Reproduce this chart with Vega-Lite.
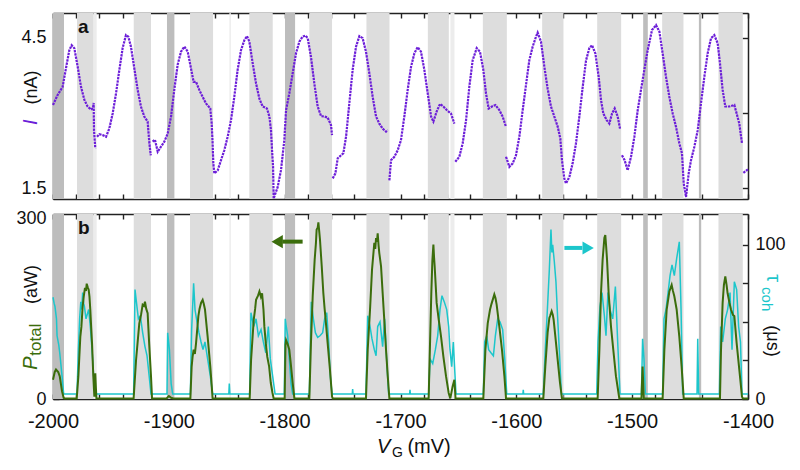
{
"$schema": "https://vega.github.io/schema/vega-lite/v6.json",
"padding": {"left": 15, "top": 12, "right": 5, "bottom": 5},
"background": "white",
"config": {
 "font": "Liberation Sans",
 "view": {"stroke": null},
 "axis": {"zindex": 1, "grid": false, "labelFlush": false, "labelOverlap": false, "domainColor": "#222", "domainWidth": 1.5, "tickColor": "#222", "tickWidth": 1.4, "labelFont": "Liberation Sans", "labelColor": "#111"}
},
"datasets": {
 "bands": [
  {"start": -2000, "end": -1990.5, "kind": "dark"},
  {"start": -1979.3, "end": -1964.9, "kind": "light"},
  {"start": -1964.9, "end": -1962.3, "kind": "faint"},
  {"start": -1930.3, "end": -1915.4, "kind": "light"},
  {"start": -1901.6, "end": -1895.2, "kind": "dark"},
  {"start": -1881.7, "end": -1861.8, "kind": "light"},
  {"start": -1847.7, "end": -1846.5, "kind": "faint"},
  {"start": -1830.5, "end": -1810.3, "kind": "light"},
  {"start": -1799.7, "end": -1791, "kind": "dark"},
  {"start": -1778.7, "end": -1759.1, "kind": "light"},
  {"start": -1729.4, "end": -1709.5, "kind": "light"},
  {"start": -1676.4, "end": -1658.3, "kind": "light"},
  {"start": -1656.9, "end": -1653.4, "kind": "faint"},
  {"start": -1628.9, "end": -1608.2, "kind": "light"},
  {"start": -1577.7, "end": -1559.3, "kind": "light"},
  {"start": -1530.2, "end": -1509.5, "kind": "light"},
  {"start": -1490.5, "end": -1486.5, "kind": "dark"},
  {"start": -1474.1, "end": -1455.7, "kind": "light"},
  {"start": -1442.4, "end": -1440.4, "kind": "dark"},
  {"start": -1425.5, "end": -1404.5, "kind": "light"}
 ],
 "current": [
  {"v": -2000, "i": 3.16, "s": 1}, {"v": -1996, "i": 3.36, "s": 1}, {"v": -1991.7, "i": 3.52, "s": 1}, {"v": -1988.8, "i": 3.89, "s": 1}, {"v": -1985.9, "i": 4.25, "s": 1}, {"v": -1983.9, "i": 4.35, "s": 1}, {"v": -1981.6, "i": 4.29, "s": 1}, {"v": -1978.7, "i": 3.92, "s": 1}, {"v": -1975.8, "i": 3.52, "s": 1}, {"v": -1972.9, "i": 3.26, "s": 1}, {"v": -1970.1, "i": 3.13, "s": 1}, {"v": -1967.2, "i": 3.07, "s": 1}, {"v": -1965.5, "i": 3.1, "s": 1}, {"v": -1964.9, "i": 3.2, "s": 1}, {"v": -1964.6, "i": 2.66, "s": 1}, {"v": -1963.5, "i": 2.3, "s": 1},
  {"v": -1962, "i": 2.53, "s": 2}, {"v": -1960, "i": 2.58, "s": 2}, {"v": -1957.1, "i": 2.56, "s": 2}, {"v": -1954.2, "i": 2.53, "s": 2}, {"v": -1951.4, "i": 2.69, "s": 2}, {"v": -1948.5, "i": 2.99, "s": 2}, {"v": -1945.6, "i": 3.39, "s": 2}, {"v": -1942.7, "i": 3.86, "s": 2}, {"v": -1939.9, "i": 4.29, "s": 2}, {"v": -1937, "i": 4.55, "s": 2}, {"v": -1935, "i": 4.52, "s": 2}, {"v": -1932.7, "i": 4.32, "s": 2}, {"v": -1929.8, "i": 3.89, "s": 2}, {"v": -1926.9, "i": 3.46, "s": 2}, {"v": -1924.1, "i": 3.13, "s": 2}, {"v": -1921.2, "i": 2.93, "s": 2}, {"v": -1918.3, "i": 2.83, "s": 2}, {"v": -1916.8, "i": 2.4, "s": 2}, {"v": -1915.6, "i": 2.16, "s": 2},
  {"v": -1914, "i": 2.43, "s": 3}, {"v": -1912, "i": 2.47, "s": 3}, {"v": -1909.6, "i": 2.23, "s": 3}, {"v": -1906.8, "i": 2.33, "s": 3}, {"v": -1903.9, "i": 2.43, "s": 3}, {"v": -1901, "i": 2.59, "s": 3}, {"v": -1898.1, "i": 2.93, "s": 3}, {"v": -1895.3, "i": 3.46, "s": 3}, {"v": -1892.4, "i": 3.96, "s": 3}, {"v": -1889.5, "i": 4.22, "s": 3}, {"v": -1886.6, "i": 4.32, "s": 3}, {"v": -1883.7, "i": 4.22, "s": 3}, {"v": -1880.9, "i": 3.89, "s": 3}, {"v": -1878.6, "i": 3.62, "s": 3}, {"v": -1876.5, "i": 3.62, "s": 3}, {"v": -1873.7, "i": 3.46, "s": 3}, {"v": -1870.8, "i": 3.32, "s": 3}, {"v": -1867.9, "i": 3.19, "s": 3}, {"v": -1864.2, "i": 3.09, "s": 3}, {"v": -1863, "i": 2.79, "s": 3}, {"v": -1862.2, "i": 2.4, "s": 3}, {"v": -1861.6, "i": 2.0, "s": 3}, {"v": -1860.7, "i": 1.8, "s": 3}, {"v": -1857.8, "i": 1.86, "s": 3}, {"v": -1855, "i": 2.06, "s": 3}, {"v": -1852.1, "i": 2.26, "s": 3}, {"v": -1849.2, "i": 2.53, "s": 3}, {"v": -1846.3, "i": 2.86, "s": 3}, {"v": -1843.5, "i": 3.32, "s": 3}, {"v": -1840.6, "i": 3.86, "s": 3}, {"v": -1837.7, "i": 4.25, "s": 3}, {"v": -1834.8, "i": 4.45, "s": 3}, {"v": -1832.5, "i": 4.53, "s": 3}, {"v": -1830.5, "i": 4.42, "s": 3}, {"v": -1827.6, "i": 3.99, "s": 3}, {"v": -1824.7, "i": 3.59, "s": 3}, {"v": -1821.9, "i": 3.29, "s": 3}, {"v": -1819, "i": 3.13, "s": 3}, {"v": -1815.3, "i": 3.09, "s": 3}, {"v": -1813.2, "i": 2.93, "s": 3}, {"v": -1811.8, "i": 2.66, "s": 3}, {"v": -1810.9, "i": 2.26, "s": 3}, {"v": -1810, "i": 1.93, "s": 3}, {"v": -1809.5, "i": 1.3, "s": 3}, {"v": -1806, "i": 1.53, "s": 3}, {"v": -1803.2, "i": 1.86, "s": 3}, {"v": -1800.3, "i": 2.46, "s": 3}, {"v": -1798.8, "i": 3.06, "s": 3}, {"v": -1796, "i": 3.39, "s": 3}, {"v": -1793.1, "i": 3.79, "s": 3}, {"v": -1790.2, "i": 4.19, "s": 3}, {"v": -1787.3, "i": 4.42, "s": 3}, {"v": -1784.5, "i": 4.52, "s": 3}, {"v": -1782.1, "i": 4.54, "s": 3}, {"v": -1780.1, "i": 4.49, "s": 3}, {"v": -1777.3, "i": 4.12, "s": 3}, {"v": -1774.4, "i": 3.59, "s": 3}, {"v": -1771.5, "i": 3.13, "s": 3}, {"v": -1768.6, "i": 2.94, "s": 3}, {"v": -1765.7, "i": 2.93, "s": 3}, {"v": -1762.9, "i": 2.91, "s": 3}, {"v": -1760, "i": 2.76, "s": 3}, {"v": -1759.1, "i": 2.56, "s": 3},
  {"v": -1758.5, "i": 1.7, "s": 4}, {"v": -1756.2, "i": 1.8, "s": 4}, {"v": -1754.2, "i": 2.1, "s": 4}, {"v": -1751.3, "i": 2.16, "s": 4}, {"v": -1749.3, "i": 2.2, "s": 4}, {"v": -1747, "i": 2.53, "s": 4}, {"v": -1744.2, "i": 3.19, "s": 4}, {"v": -1741.3, "i": 3.86, "s": 4}, {"v": -1738.4, "i": 4.32, "s": 4}, {"v": -1735.5, "i": 4.53, "s": 4}, {"v": -1732.7, "i": 4.49, "s": 4}, {"v": -1729.8, "i": 4.22, "s": 4}, {"v": -1726.9, "i": 3.79, "s": 4}, {"v": -1724, "i": 3.32, "s": 4}, {"v": -1721.1, "i": 2.93, "s": 4}, {"v": -1718.3, "i": 2.79, "s": 4}, {"v": -1715.4, "i": 2.69, "s": 4}, {"v": -1712.5, "i": 2.63, "s": 4}, {"v": -1711, "i": 2.66, "s": 4},
  {"v": -1709.6, "i": 1.66, "s": 5}, {"v": -1708.2, "i": 2.06, "s": 5}, {"v": -1705.3, "i": 2.13, "s": 5}, {"v": -1702.4, "i": 2.26, "s": 5}, {"v": -1699.6, "i": 2.46, "s": 5}, {"v": -1696.7, "i": 2.93, "s": 5}, {"v": -1693.8, "i": 3.46, "s": 5}, {"v": -1690.9, "i": 3.92, "s": 5}, {"v": -1688, "i": 4.19, "s": 5}, {"v": -1685.2, "i": 4.31, "s": 5}, {"v": -1682.3, "i": 4.22, "s": 5}, {"v": -1679.4, "i": 3.86, "s": 5}, {"v": -1676.5, "i": 3.39, "s": 5}, {"v": -1673.6, "i": 2.93, "s": 5}, {"v": -1671.6, "i": 2.83, "s": 5}, {"v": -1668.8, "i": 3.03, "s": 5}, {"v": -1665.9, "i": 3.18, "s": 5}, {"v": -1663, "i": 3.13, "s": 5}, {"v": -1660.1, "i": 3.06, "s": 5}, {"v": -1656.4, "i": 2.99, "s": 5}, {"v": -1653.5, "i": 2.79, "s": 5},
  {"v": -1652.7, "i": 2.03, "s": 6}, {"v": -1649.2, "i": 2.13, "s": 6}, {"v": -1646.3, "i": 2.4, "s": 6}, {"v": -1643.4, "i": 2.86, "s": 6}, {"v": -1640.6, "i": 3.52, "s": 6}, {"v": -1637.7, "i": 4.05, "s": 6}, {"v": -1634.2, "i": 4.29, "s": 6}, {"v": -1631.4, "i": 4.22, "s": 6}, {"v": -1628.5, "i": 3.86, "s": 6}, {"v": -1626.2, "i": 3.39, "s": 6}, {"v": -1623.9, "i": 3.09, "s": 6}, {"v": -1621, "i": 3.13, "s": 6}, {"v": -1618.1, "i": 3.16, "s": 6}, {"v": -1614.7, "i": 3.06, "s": 6}, {"v": -1611.8, "i": 2.93, "s": 6}, {"v": -1609, "i": 2.73, "s": 6},
  {"v": -1608.9, "i": 2.13, "s": 7}, {"v": -1606, "i": 1.93, "s": 7}, {"v": -1603.1, "i": 2.0, "s": 7}, {"v": -1600.3, "i": 2.16, "s": 7}, {"v": -1597.4, "i": 2.53, "s": 7}, {"v": -1594.5, "i": 3.06, "s": 7}, {"v": -1591.7, "i": 3.55, "s": 7}, {"v": -1588.8, "i": 4.05, "s": 7}, {"v": -1585.9, "i": 4.32, "s": 7}, {"v": -1583, "i": 4.52, "s": 7}, {"v": -1581.6, "i": 4.6, "s": 7}, {"v": -1578.7, "i": 4.42, "s": 7}, {"v": -1575.8, "i": 3.92, "s": 7}, {"v": -1573, "i": 3.49, "s": 7}, {"v": -1570.1, "i": 3.13, "s": 7}, {"v": -1567.2, "i": 2.93, "s": 7}, {"v": -1564.3, "i": 2.73, "s": 7}, {"v": -1562, "i": 2.49, "s": 7}, {"v": -1560.6, "i": 2.06, "s": 7}, {"v": -1558.6, "i": 1.7, "s": 7}, {"v": -1557.1, "i": 1.6, "s": 7}, {"v": -1554.2, "i": 1.73, "s": 7}, {"v": -1551.4, "i": 2.0, "s": 7}, {"v": -1548.5, "i": 2.4, "s": 7}, {"v": -1545.6, "i": 2.93, "s": 7}, {"v": -1542.7, "i": 3.52, "s": 7}, {"v": -1539.8, "i": 4.05, "s": 7}, {"v": -1537, "i": 4.29, "s": 7}, {"v": -1534.7, "i": 4.35, "s": 7}, {"v": -1531.8, "i": 4.19, "s": 7}, {"v": -1528.9, "i": 3.72, "s": 7}, {"v": -1526.9, "i": 3.26, "s": 7}, {"v": -1524.9, "i": 2.99, "s": 7}, {"v": -1522, "i": 2.86, "s": 7}, {"v": -1519.7, "i": 2.79, "s": 7}, {"v": -1517.4, "i": 2.99, "s": 7}, {"v": -1515.1, "i": 3.09, "s": 7}, {"v": -1512.5, "i": 2.93, "s": 7}, {"v": -1510.5, "i": 2.69, "s": 7},
  {"v": -1508.8, "i": 2.16, "s": 8}, {"v": -1506.5, "i": 2.06, "s": 8}, {"v": -1503.9, "i": 1.86, "s": 8}, {"v": -1501, "i": 2.13, "s": 8}, {"v": -1498.1, "i": 2.53, "s": 8}, {"v": -1495.2, "i": 3.06, "s": 8}, {"v": -1492.4, "i": 3.46, "s": 8}, {"v": -1489.5, "i": 3.86, "s": 8}, {"v": -1486.6, "i": 4.25, "s": 8}, {"v": -1482.9, "i": 4.65, "s": 8}, {"v": -1479.4, "i": 4.75, "s": 8}, {"v": -1476.5, "i": 4.62, "s": 8}, {"v": -1473.7, "i": 4.19, "s": 8}, {"v": -1470.8, "i": 3.72, "s": 8}, {"v": -1467.9, "i": 3.32, "s": 8}, {"v": -1465, "i": 2.99, "s": 8}, {"v": -1462.2, "i": 2.73, "s": 8}, {"v": -1459.3, "i": 2.4, "s": 8}, {"v": -1457, "i": 2.2, "s": 8}, {"v": -1455.5, "i": 1.6, "s": 8}, {"v": -1453.5, "i": 1.33, "s": 8}, {"v": -1451.2, "i": 1.8, "s": 8}, {"v": -1449.2, "i": 2.06, "s": 8}, {"v": -1446.3, "i": 2.33, "s": 8}, {"v": -1443.4, "i": 2.66, "s": 8}, {"v": -1440.6, "i": 3.19, "s": 8}, {"v": -1437.7, "i": 3.72, "s": 8}, {"v": -1434.8, "i": 4.19, "s": 8}, {"v": -1431.9, "i": 4.49, "s": 8}, {"v": -1429.1, "i": 4.55, "s": 8}, {"v": -1426.2, "i": 4.39, "s": 8}, {"v": -1424.2, "i": 3.99, "s": 8}, {"v": -1421.9, "i": 3.46, "s": 8}, {"v": -1419.6, "i": 3.13, "s": 8}, {"v": -1416.1, "i": 3.13, "s": 8}, {"v": -1411.8, "i": 3.16, "s": 8}, {"v": -1409.8, "i": 2.99, "s": 8}, {"v": -1407.5, "i": 2.79, "s": 8}, {"v": -1405.2, "i": 2.4, "s": 8},
  {"v": -1404, "i": 1.81, "s": 9}, {"v": -1401.2, "i": 1.86, "s": 9}, {"v": -1400, "i": 1.88, "s": 9}
 ],
 "power": [
  {"v": -2000, "p": 32}, {"v": -1998.5, "p": 45}, {"v": -1997.4, "p": 49}, {"v": -1995.5, "p": 45}, {"v": -1994.2, "p": 38}, {"v": -1992.2, "p": 13}, {"v": -1990.8, "p": 2}, {"v": -1990, "p": 1},
  {"v": -1979.5, "p": 1}, {"v": -1978.1, "p": 38}, {"v": -1976.4, "p": 104}, {"v": -1975.5, "p": 120}, {"v": -1974.4, "p": 154}, {"v": -1973.5, "p": 170}, {"v": -1972.4, "p": 185}, {"v": -1971.5, "p": 180}, {"v": -1970.9, "p": 192}, {"v": -1970, "p": 186}, {"v": -1969.2, "p": 182}, {"v": -1968.5, "p": 170}, {"v": -1967.8, "p": 149}, {"v": -1967, "p": 118}, {"v": -1966.3, "p": 93}, {"v": -1965.2, "p": 38}, {"v": -1964.3, "p": 4}, {"v": -1963.8, "p": 30}, {"v": -1963.5, "p": 43}, {"v": -1963, "p": 20}, {"v": -1962.5, "p": 1},
  {"v": -1930.4, "p": 1}, {"v": -1928.3, "p": 65}, {"v": -1925.5, "p": 126}, {"v": -1924, "p": 140}, {"v": -1922.6, "p": 157}, {"v": -1921.5, "p": 155}, {"v": -1920.6, "p": 162}, {"v": -1919.5, "p": 150}, {"v": -1918.3, "p": 143}, {"v": -1917, "p": 93}, {"v": -1915.4, "p": 38}, {"v": -1914.5, "p": 1},
  {"v": -1902, "p": 1}, {"v": -1900, "p": 5}, {"v": -1898, "p": 2}, {"v": -1896, "p": 1},
  {"v": -1881.4, "p": 1}, {"v": -1880.3, "p": 54}, {"v": -1879.5, "p": 70}, {"v": -1878.6, "p": 82}, {"v": -1877.5, "p": 75}, {"v": -1876.5, "p": 93}, {"v": -1874.5, "p": 138}, {"v": -1873.5, "p": 150}, {"v": -1872.2, "p": 160}, {"v": -1870.8, "p": 165}, {"v": -1869.8, "p": 158}, {"v": -1868.8, "p": 149}, {"v": -1866.5, "p": 104}, {"v": -1864.2, "p": 54}, {"v": -1862.2, "p": 1},
  {"v": -1830.2, "p": 1}, {"v": -1829, "p": 65}, {"v": -1826.7, "p": 132}, {"v": -1825.5, "p": 150}, {"v": -1824.7, "p": 165}, {"v": -1823, "p": 172}, {"v": -1821.8, "p": 179}, {"v": -1820.5, "p": 170}, {"v": -1819.5, "p": 176}, {"v": -1818.3, "p": 149}, {"v": -1817.5, "p": 120}, {"v": -1816.3, "p": 93}, {"v": -1815, "p": 70}, {"v": -1813.4, "p": 54}, {"v": -1812, "p": 27}, {"v": -1810.5, "p": 10}, {"v": -1809.5, "p": 1},
  {"v": -1800, "p": 1}, {"v": -1799.3, "p": 90}, {"v": -1798.8, "p": 98}, {"v": -1797.5, "p": 92}, {"v": -1796, "p": 82}, {"v": -1794.8, "p": 60}, {"v": -1793.1, "p": 27}, {"v": -1791.6, "p": 1},
  {"v": -1778.7, "p": 1}, {"v": -1777.3, "p": 93}, {"v": -1775.8, "p": 171}, {"v": -1774.1, "p": 232}, {"v": -1773, "p": 260}, {"v": -1772.4, "p": 282}, {"v": -1771.5, "p": 285}, {"v": -1770.9, "p": 294}, {"v": -1770.2, "p": 280}, {"v": -1769.5, "p": 265}, {"v": -1768, "p": 221}, {"v": -1766.6, "p": 176}, {"v": -1765.5, "p": 150}, {"v": -1764.9, "p": 138}, {"v": -1762.9, "p": 93}, {"v": -1760.9, "p": 49}, {"v": -1759.1, "p": 4}, {"v": -1758.5, "p": 1},
  {"v": -1729.8, "p": 1}, {"v": -1728.3, "p": 82}, {"v": -1726.3, "p": 149}, {"v": -1724.6, "p": 215}, {"v": -1723.5, "p": 240}, {"v": -1722.6, "p": 260}, {"v": -1721.8, "p": 250}, {"v": -1721.1, "p": 268}, {"v": -1720.3, "p": 262}, {"v": -1719.7, "p": 276}, {"v": -1718.9, "p": 255}, {"v": -1718.3, "p": 243}, {"v": -1716.8, "p": 221}, {"v": -1715.4, "p": 176}, {"v": -1714, "p": 132}, {"v": -1712.5, "p": 82}, {"v": -1711, "p": 38}, {"v": -1709.6, "p": 1},
  {"v": -1675.7, "p": 1}, {"v": -1674.5, "p": 93}, {"v": -1673.4, "p": 176}, {"v": -1672.5, "p": 230}, {"v": -1671.6, "p": 257}, {"v": -1671, "p": 235}, {"v": -1670.5, "p": 221}, {"v": -1668.8, "p": 160}, {"v": -1667, "p": 132}, {"v": -1665, "p": 104}, {"v": -1663, "p": 71}, {"v": -1660.7, "p": 38}, {"v": -1658.4, "p": 10}, {"v": -1657, "p": 1}, {"v": -1655, "p": 21}, {"v": -1653.5, "p": 32}, {"v": -1652.5, "p": 1},
  {"v": -1628.5, "p": 1}, {"v": -1626.7, "p": 82}, {"v": -1624.7, "p": 126}, {"v": -1622.7, "p": 149}, {"v": -1621.5, "p": 158}, {"v": -1620.4, "p": 165}, {"v": -1619, "p": 174}, {"v": -1618, "p": 168}, {"v": -1617, "p": 157}, {"v": -1614.7, "p": 121}, {"v": -1612.4, "p": 82}, {"v": -1610.3, "p": 38}, {"v": -1608.9, "p": 1},
  {"v": -1576.7, "p": 1}, {"v": -1575, "p": 54}, {"v": -1573, "p": 110}, {"v": -1571.5, "p": 135}, {"v": -1570.9, "p": 138}, {"v": -1569.5, "p": 146}, {"v": -1568.5, "p": 140}, {"v": -1567.8, "p": 132}, {"v": -1566.3, "p": 104}, {"v": -1564.3, "p": 65}, {"v": -1562.3, "p": 27}, {"v": -1560.6, "p": 1},
  {"v": -1529.8, "p": 1}, {"v": -1528.3, "p": 82}, {"v": -1526.9, "p": 176}, {"v": -1525.5, "p": 232}, {"v": -1524, "p": 268}, {"v": -1523.2, "p": 273}, {"v": -1522.5, "p": 255}, {"v": -1521.7, "p": 232}, {"v": -1520.3, "p": 176}, {"v": -1518.3, "p": 121}, {"v": -1516.3, "p": 82}, {"v": -1514, "p": 38}, {"v": -1511.1, "p": 1},
  {"v": -1492, "p": 1}, {"v": -1491, "p": 54}, {"v": -1490, "p": 1},
  {"v": -1473.7, "p": 1}, {"v": -1472.2, "p": 82}, {"v": -1470.2, "p": 149}, {"v": -1467.9, "p": 179}, {"v": -1466.8, "p": 185}, {"v": -1465.9, "p": 190}, {"v": -1464.8, "p": 180}, {"v": -1463.6, "p": 171}, {"v": -1461.6, "p": 149}, {"v": -1459.3, "p": 104}, {"v": -1457.3, "p": 54}, {"v": -1455.5, "p": 1},
  {"v": -1424.2, "p": 1}, {"v": -1423.3, "p": 82}, {"v": -1421.9, "p": 160}, {"v": -1420.8, "p": 190}, {"v": -1419.6, "p": 204}, {"v": -1418.5, "p": 190}, {"v": -1417.6, "p": 176}, {"v": -1416, "p": 160}, {"v": -1414.7, "p": 149}, {"v": -1413, "p": 140}, {"v": -1411.8, "p": 138}, {"v": -1409.8, "p": 93}, {"v": -1407.5, "p": 49}, {"v": -1405.2, "p": 4}, {"v": -1404.5, "p": 1}, {"v": -1400, "p": 1}
 ],
 "tau": [
  {"v": -2000, "t": 66}, {"v": -1999, "t": 62}, {"v": -1998.3, "t": 60}, {"v": -1997, "t": 52}, {"v": -1996.5, "t": 41}, {"v": -1995, "t": 35}, {"v": -1994.2, "t": 30}, {"v": -1992.2, "t": 15}, {"v": -1990.8, "t": 3.3},
  {"v": -1979.3, "t": 3.3}, {"v": -1978.1, "t": 32}, {"v": -1977, "t": 52}, {"v": -1976, "t": 63}, {"v": -1975.2, "t": 58}, {"v": -1974.4, "t": 69}, {"v": -1973.5, "t": 62}, {"v": -1972.9, "t": 60}, {"v": -1971.5, "t": 52}, {"v": -1970, "t": 56}, {"v": -1969.2, "t": 58}, {"v": -1967.8, "t": 47}, {"v": -1966.3, "t": 32}, {"v": -1964.9, "t": 15}, {"v": -1963.5, "t": 3.3},
  {"v": -1930.4, "t": 3.3}, {"v": -1929.2, "t": 71}, {"v": -1928, "t": 63}, {"v": -1926.3, "t": 52}, {"v": -1924.6, "t": 54}, {"v": -1922.6, "t": 43}, {"v": -1920.6, "t": 34}, {"v": -1918.8, "t": 28}, {"v": -1917, "t": 15}, {"v": -1915.4, "t": 3.3},
  {"v": -1901.6, "t": 3.3}, {"v": -1901, "t": 43}, {"v": -1899.5, "t": 32}, {"v": -1898, "t": 10}, {"v": -1896.7, "t": 3.3},
  {"v": -1881.4, "t": 3.3}, {"v": -1880.3, "t": 45}, {"v": -1878.6, "t": 75}, {"v": -1877.4, "t": 58}, {"v": -1875.7, "t": 50}, {"v": -1874, "t": 43}, {"v": -1872.2, "t": 37}, {"v": -1870.5, "t": 32}, {"v": -1868.8, "t": 37}, {"v": -1866.5, "t": 26}, {"v": -1864.2, "t": 15}, {"v": -1862.2, "t": 3.3},
  {"v": -1848.2, "t": 3.3}, {"v": -1847.8, "t": 10}, {"v": -1847.3, "t": 3.3},
  {"v": -1830.2, "t": 3.3}, {"v": -1829.1, "t": 56}, {"v": -1826.7, "t": 47}, {"v": -1824.7, "t": 52}, {"v": -1822.7, "t": 41}, {"v": -1820.4, "t": 45}, {"v": -1818.4, "t": 37}, {"v": -1816.3, "t": 30}, {"v": -1814.1, "t": 47}, {"v": -1812.4, "t": 26}, {"v": -1810.4, "t": 15}, {"v": -1808.3, "t": 3.3},
  {"v": -1800.3, "t": 3.3}, {"v": -1799.5, "t": 52}, {"v": -1798.8, "t": 48}, {"v": -1797.4, "t": 41}, {"v": -1796, "t": 26}, {"v": -1794.5, "t": 10}, {"v": -1793.1, "t": 3.3},
  {"v": -1778.7, "t": 3.3}, {"v": -1777, "t": 63}, {"v": -1775.2, "t": 52}, {"v": -1773.5, "t": 43}, {"v": -1771.5, "t": 40}, {"v": -1769.5, "t": 41}, {"v": -1767.2, "t": 43}, {"v": -1765.5, "t": 52}, {"v": -1763.7, "t": 56}, {"v": -1762, "t": 37}, {"v": -1760.6, "t": 15}, {"v": -1759.1, "t": 3.3},
  {"v": -1741.6, "t": 3.3}, {"v": -1741.3, "t": 6.5}, {"v": -1741, "t": 3.3},
  {"v": -1729.8, "t": 3.3}, {"v": -1728.3, "t": 54}, {"v": -1726.3, "t": 47}, {"v": -1724.6, "t": 39}, {"v": -1722.6, "t": 32}, {"v": -1721.1, "t": 28}, {"v": -1719.7, "t": 47}, {"v": -1717.7, "t": 50}, {"v": -1715.4, "t": 34}, {"v": -1713.7, "t": 52}, {"v": -1712, "t": 26}, {"v": -1710.2, "t": 3.3},
  {"v": -1692.1, "t": 3.3}, {"v": -1691.8, "t": 6}, {"v": -1691.5, "t": 3.3},
  {"v": -1675.7, "t": 3.3}, {"v": -1674.5, "t": 26}, {"v": -1672.2, "t": 23}, {"v": -1669.9, "t": 32}, {"v": -1667.9, "t": 41}, {"v": -1665.9, "t": 58}, {"v": -1664.2, "t": 67}, {"v": -1662.2, "t": 63}, {"v": -1660.1, "t": 58}, {"v": -1658.4, "t": 47}, {"v": -1657.3, "t": 32}, {"v": -1655.8, "t": 21}, {"v": -1654.4, "t": 37}, {"v": -1653.2, "t": 19}, {"v": -1652.1, "t": 3.3},
  {"v": -1628.5, "t": 3.3}, {"v": -1627.3, "t": 37}, {"v": -1625.6, "t": 41}, {"v": -1623.9, "t": 32}, {"v": -1621.9, "t": 30}, {"v": -1619.8, "t": 28}, {"v": -1618.1, "t": 41}, {"v": -1616.1, "t": 52}, {"v": -1614.1, "t": 50}, {"v": -1611.8, "t": 45}, {"v": -1610, "t": 26}, {"v": -1608.3, "t": 3.3},
  {"v": -1594.3, "t": 3.3}, {"v": -1594, "t": 6}, {"v": -1593.7, "t": 3.3},
  {"v": -1576.7, "t": 3.3}, {"v": -1575, "t": 32}, {"v": -1573.2, "t": 58}, {"v": -1571.5, "t": 84}, {"v": -1570.1, "t": 110}, {"v": -1569.3, "t": 95}, {"v": -1568.6, "t": 100}, {"v": -1567.2, "t": 89}, {"v": -1565.8, "t": 76}, {"v": -1564.3, "t": 52}, {"v": -1562.9, "t": 32}, {"v": -1561.1, "t": 3.3},
  {"v": -1530.6, "t": 3.3}, {"v": -1529.5, "t": 37}, {"v": -1527.8, "t": 60}, {"v": -1526, "t": 69}, {"v": -1524, "t": 54}, {"v": -1522.6, "t": 41}, {"v": -1520.9, "t": 69}, {"v": -1519.1, "t": 58}, {"v": -1516.8, "t": 52}, {"v": -1514.5, "t": 73}, {"v": -1512.5, "t": 37}, {"v": -1510.5, "t": 3.3},
  {"v": -1492, "t": 3.3}, {"v": -1491, "t": 39}, {"v": -1489.8, "t": 26}, {"v": -1488.6, "t": 3.3},
  {"v": -1473.7, "t": 3.3}, {"v": -1472.5, "t": 52}, {"v": -1470.8, "t": 58}, {"v": -1469, "t": 69}, {"v": -1467.3, "t": 80}, {"v": -1465.6, "t": 87}, {"v": -1463.6, "t": 80}, {"v": -1461.6, "t": 91}, {"v": -1459.3, "t": 102}, {"v": -1457.8, "t": 58}, {"v": -1456.4, "t": 3.3},
  {"v": -1444, "t": 3.3}, {"v": -1443.4, "t": 39}, {"v": -1442.6, "t": 3.3},
  {"v": -1424.7, "t": 3.3}, {"v": -1423.6, "t": 47}, {"v": -1421.9, "t": 37}, {"v": -1419.6, "t": 52}, {"v": -1417.6, "t": 58}, {"v": -1415.5, "t": 69}, {"v": -1413.8, "t": 32}, {"v": -1411.8, "t": 76}, {"v": -1409.8, "t": 71}, {"v": -1408.1, "t": 47}, {"v": -1406.5, "t": 37}, {"v": -1405.2, "t": 3.3}, {"v": -1400, "t": 3.3}
 ],
 "arrows": [
  {"which": "P", "from": -1784.5, "to": -1802, "head": -1806.5, "y": 262},
  {"which": "tau", "from": -1558.5, "to": -1543, "head": -1538, "y": 98}
 ]
},
"spacing": 15,
"bounds": "flush",
"vconcat": [
 {
  "width": 695, "height": 186,
  "layer": [
   {"data": {"name": "bands"}, "mark": {"type": "rect"},
    "encoding": {
     "x": {"field": "start", "type": "quantitative", "scale": {"domain": [-2000, -1400], "nice": false, "zero": false},
       "axis": {"orient": "bottom", "title": null, "labels": false, "tickSize": -5, "values": [-2000,-1980,-1960,-1940,-1920,-1900,-1880,-1860,-1840,-1820,-1800,-1780,-1760,-1740,-1720,-1700,-1680,-1660,-1640,-1620,-1600,-1580,-1560,-1540,-1520,-1500,-1480,-1460,-1440,-1420,-1400]}},
     "x2": {"field": "end"},
     "color": {"field": "kind", "type": "nominal", "scale": {"domain": ["dark", "light", "faint"], "range": ["#bdbdbd", "#dddddd", "#ececec"]}, "legend": null}
    }},
   {"data": {"name": "current"}, "mark": {"type": "line", "color": "#6c1ed8", "strokeWidth": 2.2, "strokeDash": [2.4, 0.9]},
    "encoding": {
     "x": {"field": "v", "type": "quantitative",
       "axis": {"orient": "top", "title": null, "labels": false, "tickSize": -5, "values": [-2000,-1980,-1960,-1940,-1920,-1900,-1880,-1860,-1840,-1820,-1800,-1780,-1760,-1740,-1720,-1700,-1680,-1660,-1640,-1620,-1600,-1580,-1560,-1540,-1520,-1500,-1480,-1460,-1440,-1420,-1400]}},
     "y": {"field": "i", "type": "quantitative", "scale": {"domain": [1.29, 4.99], "nice": false, "zero": false},
       "axis": {"orient": "left", "title": null, "values": [1.5, 3, 4.5], "labelExpr": "datum.value === 3 ? '' : '' + datum.value", "tickSize": -6, "labelPadding": 13, "labelFontSize": 18}},
     "detail": {"field": "s", "type": "nominal"}
    }},
   {"data": {"values": [{}]}, "mark": {"type": "text", "text": "a", "fontSize": 19, "fontWeight": "bold", "align": "left", "baseline": "alphabetic", "color": "#111"},
    "encoding": {
     "x": {"datum": -1978.4, "type": "quantitative", "axis": null},
     "y": {"datum": 4.594, "type": "quantitative", "axis": {"orient": "right", "title": null, "labels": false, "values": [1.5, 3, 4.5], "tickSize": -6}}
    }},
   {"data": {"values": [{}]}, "mark": {"type": "text", "text": "I", "fontSize": 20, "fontStyle": "italic", "angle": 270, "align": "left", "baseline": "alphabetic", "dy": -16, "color": "#6c1ed8"},
    "encoding": {"x": {"datum": -2000, "type": "quantitative", "axis": null}, "y": {"datum": 2.76, "type": "quantitative", "axis": null}}},
   {"data": {"values": [{}]}, "mark": {"type": "text", "text": "(nA)", "fontSize": 18, "angle": 270, "align": "left", "baseline": "alphabetic", "dy": -16, "color": "#111"},
    "encoding": {"x": {"datum": -2000, "type": "quantitative", "axis": null}, "y": {"datum": 3.17, "type": "quantitative", "axis": null}}}
  ],
  "resolve": {"axis": {"x": "independent", "y": "independent"}}
 },
 {
  "width": 695, "height": 185,
  "layer": [
   {"data": {"name": "bands"}, "mark": {"type": "rect"},
    "encoding": {
     "x": {"field": "start", "type": "quantitative", "scale": {"domain": [-2000, -1400], "nice": false, "zero": false},
       "axis": {"orient": "top", "title": null, "labels": false, "tickSize": -5, "values": [-2000,-1980,-1960,-1940,-1920,-1900,-1880,-1860,-1840,-1820,-1800,-1780,-1760,-1740,-1720,-1700,-1680,-1660,-1640,-1620,-1600,-1580,-1560,-1540,-1520,-1500,-1480,-1460,-1440,-1420,-1400]}},
     "x2": {"field": "end"},
     "color": {"field": "kind", "type": "nominal", "scale": {"domain": ["dark", "light", "faint"], "range": ["#bdbdbd", "#dddddd", "#ececec"]}, "legend": null}
    }},
   {"data": {"name": "tau"}, "mark": {"type": "line", "color": "#1cc6cb", "strokeWidth": 1.5},
    "encoding": {
     "x": {"field": "v", "type": "quantitative", "axis": null},
     "y": {"field": "t", "type": "quantitative", "scale": {"domain": [0, 120], "nice": false},
       "axis": {"orient": "right", "title": null, "values": [0, 25, 50, 75, 100], "labelExpr": "datum.value === 0 || datum.value === 100 ? '' + datum.value : ''", "tickSize": -6, "labelPadding": 13, "labelFontSize": 18}}
    }},
   {"data": {"name": "power"}, "mark": {"type": "line", "color": "#3b6d0c", "strokeWidth": 2},
    "encoding": {
     "x": {"field": "v", "type": "quantitative",
       "axis": {"orient": "bottom", "title": null, "tickSize": -5, "labelPadding": 17, "labelFontSize": 20, "labelExpr": "datum.value % 100 === 0 ? '' + datum.value : ''", "values": [-2000,-1980,-1960,-1940,-1920,-1900,-1880,-1860,-1840,-1820,-1800,-1780,-1760,-1740,-1720,-1700,-1680,-1660,-1640,-1620,-1600,-1580,-1560,-1540,-1520,-1500,-1480,-1460,-1440,-1420,-1400]}},
     "y": {"field": "p", "type": "quantitative", "scale": {"domain": [0, 308], "nice": false},
       "axis": {"orient": "left", "title": null, "values": [0, 100, 200, 300], "labelExpr": "datum.value === 0 || datum.value === 300 ? '' + datum.value : ''", "tickSize": -6, "labelPadding": 13, "labelFontSize": 18}}
    }},
   {"data": {"name": "arrows"}, "transform": [{"filter": "datum.which === 'tau'"}], "mark": {"type": "rule", "color": "#1cc6cb", "strokeWidth": 4},
    "encoding": {"x": {"field": "from", "type": "quantitative", "axis": null}, "x2": {"field": "to"}, "y": {"field": "y", "type": "quantitative", "scale": {"domain": [0, 120], "nice": false}, "axis": null}}},
   {"data": {"name": "arrows"}, "transform": [{"filter": "datum.which === 'tau'"}], "mark": {"type": "point", "shape": "triangle-right", "filled": true, "opacity": 1, "color": "#1cc6cb", "size": 170},
    "encoding": {"x": {"field": "head", "type": "quantitative", "axis": null}, "y": {"field": "y", "type": "quantitative", "scale": {"domain": [0, 120], "nice": false}, "axis": null}}},
   {"data": {"name": "arrows"}, "transform": [{"filter": "datum.which === 'P'"}], "mark": {"type": "rule", "color": "#3b6d0c", "strokeWidth": 4},
    "encoding": {"x": {"field": "from", "type": "quantitative", "axis": null}, "x2": {"field": "to"}, "y": {"field": "y", "type": "quantitative", "scale": {"domain": [0, 308], "nice": false}, "axis": null}}},
   {"data": {"name": "arrows"}, "transform": [{"filter": "datum.which === 'P'"}], "mark": {"type": "point", "shape": "triangle-left", "filled": true, "opacity": 1, "color": "#3b6d0c", "size": 170},
    "encoding": {"x": {"field": "head", "type": "quantitative", "axis": null}, "y": {"field": "y", "type": "quantitative", "scale": {"domain": [0, 308], "nice": false}, "axis": null}}},
   {"data": {"values": [{}]}, "mark": {"type": "text", "text": "b", "fontSize": 19, "fontWeight": "bold", "align": "left", "baseline": "alphabetic", "color": "#111"},
    "encoding": {"x": {"datum": -1978.4, "type": "quantitative", "axis": null}, "y": {"datum": 275, "type": "quantitative", "scale": {"domain": [0, 308], "nice": false}, "axis": null}}},
   {"data": {"values": [{}]}, "mark": {"type": "text", "text": "τ", "fontSize": 20, "angle": 90, "align": "left", "baseline": "alphabetic", "dy": -19, "color": "#1cc6cb"},
    "encoding": {"x": {"datum": -1400, "type": "quantitative", "axis": null}, "y": {"datum": 81, "type": "quantitative", "scale": {"domain": [0, 120], "nice": false}, "axis": null}}},
   {"data": {"values": [{}]}, "mark": {"type": "text", "text": "coh", "fontSize": 15, "angle": 90, "align": "left", "baseline": "alphabetic", "dy": -14, "color": "#1cc6cb"},
    "encoding": {"x": {"datum": -1400, "type": "quantitative", "axis": null}, "y": {"datum": 72.6, "type": "quantitative", "scale": {"domain": [0, 120], "nice": false}, "axis": null}}},
   {"data": {"values": [{}]}, "mark": {"type": "text", "text": "(μs)", "fontSize": 18, "angle": 90, "align": "left", "baseline": "alphabetic", "dy": -19, "color": "#111"},
    "encoding": {"x": {"datum": -1400, "type": "quantitative", "axis": null}, "y": {"datum": 47.8, "type": "quantitative", "scale": {"domain": [0, 120], "nice": false}, "axis": null}}},
   {"data": {"values": [{}]}, "mark": {"type": "text", "text": "P", "fontSize": 20, "fontStyle": "italic", "angle": 270, "align": "left", "baseline": "alphabetic", "dy": -16, "color": "#3b6d0c"},
    "encoding": {"x": {"datum": -2000, "type": "quantitative", "axis": null}, "y": {"datum": 48.8, "type": "quantitative", "scale": {"domain": [0, 308], "nice": false}, "axis": null}}},
   {"data": {"values": [{}]}, "mark": {"type": "text", "text": "total", "fontSize": 17, "angle": 270, "align": "left", "baseline": "alphabetic", "dy": -12, "color": "#3b6d0c"},
    "encoding": {"x": {"datum": -2000, "type": "quantitative", "axis": null}, "y": {"datum": 72, "type": "quantitative", "scale": {"domain": [0, 308], "nice": false}, "axis": null}}},
   {"data": {"values": [{}]}, "mark": {"type": "text", "text": "(aW)", "fontSize": 18, "angle": 270, "align": "left", "baseline": "alphabetic", "dy": -16, "color": "#111"},
    "encoding": {"x": {"datum": -2000, "type": "quantitative", "axis": null}, "y": {"datum": 158, "type": "quantitative", "scale": {"domain": [0, 308], "nice": false}, "axis": null}}},
   {"data": {"values": [{}]}, "mark": {"type": "text", "text": "V", "fontSize": 20, "fontStyle": "italic", "align": "left", "baseline": "alphabetic", "dy": 54, "color": "#111"},
    "encoding": {"x": {"datum": -1720.3, "type": "quantitative", "axis": null}, "y": {"datum": 0, "type": "quantitative", "scale": {"domain": [0, 308], "nice": false}, "axis": null}}},
   {"data": {"values": [{}]}, "mark": {"type": "text", "text": "G", "fontSize": 14, "align": "left", "baseline": "alphabetic", "dy": 58, "color": "#111"},
    "encoding": {"x": {"datum": -1707.3, "type": "quantitative", "axis": null}, "y": {"datum": 0, "type": "quantitative", "scale": {"domain": [0, 308], "nice": false}, "axis": null}}},
   {"data": {"values": [{}]}, "mark": {"type": "text", "text": "(mV)", "fontSize": 20, "align": "left", "baseline": "alphabetic", "dy": 54, "color": "#111"},
    "encoding": {"x": {"datum": -1694, "type": "quantitative", "axis": null}, "y": {"datum": 0, "type": "quantitative", "scale": {"domain": [0, 308], "nice": false}, "axis": null}}}
  ],
  "resolve": {"scale": {"y": "independent"}, "axis": {"x": "independent", "y": "independent"}}
 }
]
}
